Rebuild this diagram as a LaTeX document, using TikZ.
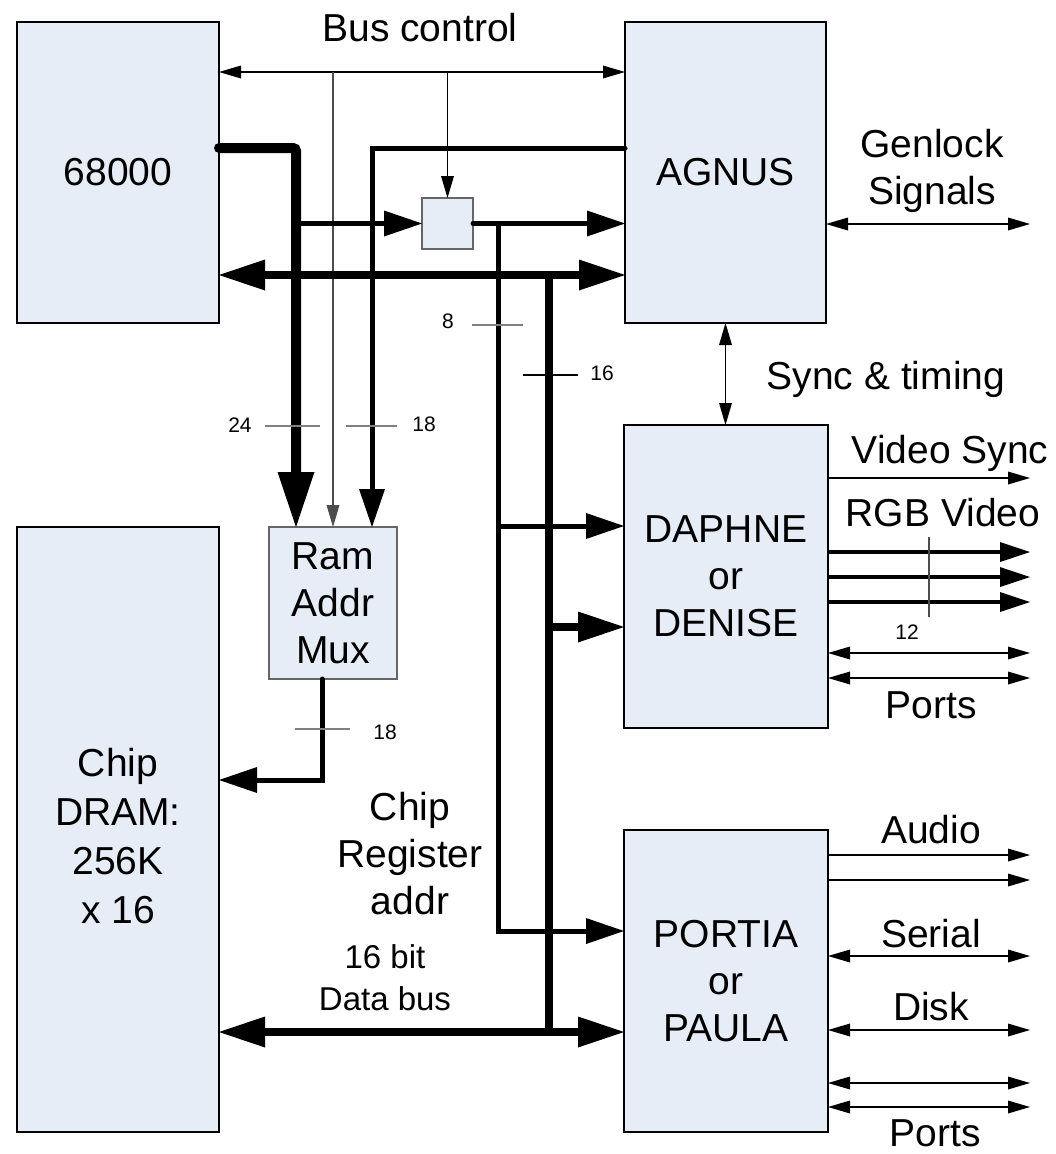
\documentclass[tikz,border=0pt]{standalone}
\usepackage{fontspec}
\setmainfont{Liberation Sans}
\usetikzlibrary{arrows.meta}
\definecolor{boxfill}{RGB}{230,237,247}
\newcommand\bigtxt{\fontsize{39}{47}\selectfont}
\newcommand\numtxt{\fontsize{21}{25}\selectfont}
\tikzset{
  blk/.style={draw=black, line width=2.5pt, fill=boxfill, inner sep=0pt, outer sep=0pt, align=center, font=\bigtxt},
  gblk/.style={draw=black!60, line width=1.3pt, fill=boxfill, inner sep=0pt, outer sep=0pt, align=center, font=\bigtxt},
  lbl/.style={align=center, font=\bigtxt, inner sep=0pt},
  num/.style={font=\numtxt, inner sep=0pt},
  sig/.style={line width=1.3pt, >={Triangle[length=22pt,width=13pt,line width=0pt]}},
  midbus/.style={line width=5pt, >={Triangle[length=38pt,width=26pt,line width=0pt]}},
  databus/.style={line width=7.5pt, >={Triangle[length=46pt,width=31pt,line width=0pt]}},
  cpubus/.style={line width=10pt, >={Triangle[length=55pt,width=37pt,line width=0pt]}},
  rgbline/.style={line width=4pt, >={Triangle[length=30pt,width=20pt,line width=0pt]}},
  tick/.style={line width=1.3pt, draw=black!50},
}
\begin{document}
\begin{tikzpicture}[x=1pt,y=-1pt]
\useasboundingbox (0,0) rectangle (1055,1154);
% boxes
\node[blk, minimum width=202pt, minimum height=301pt] (cpu) at (118,172.5) {68000};
\node[blk, minimum width=201pt, minimum height=301pt] (agnus) at (725.5,172.5) {AGNUS};
\node[blk, minimum width=204pt, minimum height=303pt] (denise) at (726,576.5) {DAPHNE\\or\\DENISE};
\node[blk, minimum width=204pt, minimum height=302pt] (paula) at (726,981) {PORTIA\\or\\PAULA};
\node[blk, minimum width=202pt, minimum height=605pt, font=\fontsize{39}{49}\selectfont] (dram) at (118,829.5) {\rule{0pt}{42pt}Chip\\DRAM:\\256K\\x 16};
\node[gblk, minimum width=128pt, minimum height=152pt] (mux) at (333,603) {Ram\\Addr\\Mux};
\node[gblk, minimum width=51pt, minimum height=51pt] (sel) at (447.5,223.5) {};

% bus control
\coordinate (bcA) at (333,72);
\coordinate (bcB) at (sel.north |- bcA);
\draw[sig,<->] (cpu.east |- bcA) -- (agnus.west |- bcA);
\draw[sig,->,draw=black!70] (bcA) -- (bcA |- mux.north);
\draw[sig,->] (bcB) -- (sel.north);

% 68000 address bus
\coordinate (cb) at (296,148);
\draw[cpubus,->,rounded corners=3pt,line cap=round] (cpu.east |- cb) -- (cb) -- (cb |- mux.north);
\coordinate (sb) at (cb |- sel.west);
\draw[midbus,->] (sb) -- (sel.west);

% Agnus address to mux
\coordinate (aa) at (372,148);
\draw[midbus,->,line cap=round] (agnus.west |- aa) -- (aa) -- (aa |- mux.north);

% selector to agnus and chip register address
\draw[midbus,->,line cap=round] (sel.east) -- (agnus.west |- sel.east);
\coordinate (cr) at (498,223.5);
\coordinate (crD) at (498,526);
\coordinate (crP) at (498,931);
\draw[midbus,->] (cr) -- (crP) -- (paula.west |- crP);
\draw[midbus,->] (crD) -- (denise.west |- crD);

% data bus
\coordinate (dbT) at (549,275);
\coordinate (dbB) at (549,1032);
\coordinate (dbD) at (549,627);
\draw[databus,<->] (cpu.east |- dbT) -- (agnus.west |- dbT);
\draw[databus] (dbT) -- (dbB);
\draw[databus,<->] (dram.east |- dbB) -- (paula.west |- dbB);
\draw[databus,->] (dbD) -- (denise.west |- dbD);

% mux output
\coordinate (mo) at (322,780);
\draw[midbus,->,line cap=round] (mux.south -| mo) -- (mo) -- (dram.east |- mo);

% right side signals
\draw[sig,<->] (agnus.south) -- (agnus.south |- denise.north);
\coordinate (gl) at (1030,224);
\draw[sig,<->] (agnus.east |- gl) -- (gl);
\coordinate (vs) at (1030,478);
\draw[sig,->] (denise.east |- vs) -- (vs);
\foreach \y [count=\i] in {552,577,602} {
  \coordinate (rgb\i) at (1030,\y);
  \draw[rgbline,->] (denise.east |- rgb\i) -- (rgb\i);
}
\foreach \y [count=\i] in {653,678} {
  \coordinate (dp\i) at (1030,\y);
  \draw[sig,<->] (denise.east |- dp\i) -- (dp\i);
}
\foreach \y [count=\i] in {855,880} {
  \coordinate (au\i) at (1030,\y);
  \draw[sig,->] (paula.east |- au\i) -- (au\i);
}
\foreach \y [count=\i] in {956,1030,1083,1107} {
  \coordinate (pp\i) at (1030,\y);
  \draw[sig,<->] (paula.east |- pp\i) -- (pp\i);
}

% bus width ticks
\draw[tick] (265,426) -- (320,426);
\draw[tick] (346,426) -- (397,426);
\draw[tick] (472,325) -- (523,325);
\draw[tick,draw=black] (523,375) -- (578,375);
\draw[tick] (295,729) -- (350,729);
\draw[tick,draw=black!70] (929,537) -- (929,617);
\node[num] (n24) at (240,425) {24};
\node[num] (n18a) at (424,424) {18};
\node[num] (n8) at (448,321) {8};
\node[num] (n16) at (602,373) {16};
\node[num] (n18b) at (385,732) {18};
\node[num] (n12) at (907,632) {12};

% labels
\node[lbl, anchor=base] (buslbl) at (420,41) {Bus control};
\node[lbl] (genlbl) at (932,171) {Genlock\\Signals};
\node[lbl, anchor=base] (synclbl) at (886,389) {Sync \& timing};
\node[lbl, anchor=base] (vslbl) at (950,463) {Video Sync};
\node[lbl, anchor=base] (rgblbl) at (943,526) {RGB Video};
\node[lbl, anchor=base] (ports1) at (931,718) {Ports};
\node[lbl, anchor=base] (audiolbl) at (931,843) {Audio};
\node[lbl, anchor=base] (seriallbl) at (931,947) {Serial};
\node[lbl, anchor=base] (disklbl) at (931,1020) {Disk};
\node[lbl, anchor=base] (ports2) at (935,1146) {Ports};
\node[lbl] (crlbl) at (410,854) {Chip\\Register\\addr};
\node[lbl, font=\fontsize{33}{42}\selectfont] (dblbl) at (385,978) {16 bit\\Data bus};
\end{tikzpicture}
\end{document}
